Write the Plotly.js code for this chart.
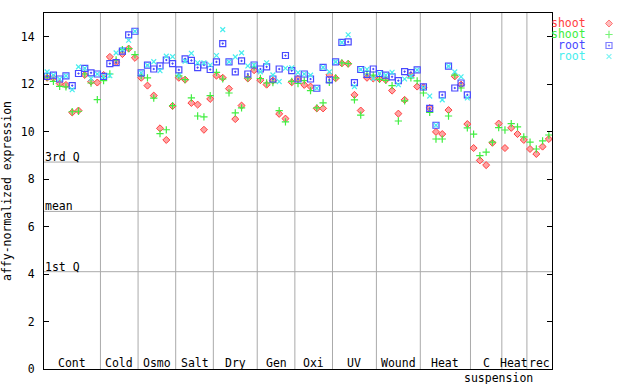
<!DOCTYPE html>
<html>
<head>
<meta charset="utf-8">
<script src="https://cdn.plot.ly/plotly-3.0.1.min.js"></script>
<style>html,body{margin:0;padding:0;background:#fff;}#chart{width:640px;height:384px;}</style>
</head>
<body>
<div id="chart"></div>
<script>
// ---- data ----
const groups = ["Cont","Cold","Osmo","Salt","Dry","Gen","Oxi","UV","Wound","Heat","C<br>suspension","Heat","rec"];
const groupSizes = [9,6,6,6,7,6,6,7,7,8,5,4,4];

const seriesNames = ["shoot","shoot","root","root"];

const shootRed = [
  12.27,12.27,12.03,11.97,10.81,10.89,12.39,12.11,12.07,
  12.39,13.15,12.93,13.27,13.50,13.11,
  12.27,11.94,11.52,10.14,9.65,11.08,
  12.27,12.19,11.21,11.14,10.08,11.38,
  12.36,12.27,11.81,10.53,11.10,12.24,12.59,
  12.17,11.98,12.15,10.75,10.55,12.08,
  12.22,11.97,11.90,10.98,10.98,12.39,
  12.25,12.88,12.86,11.55,10.89,12.27,12.24,
  12.22,12.18,11.73,10.76,11.34,12.38,11.90,
  11.87,11.00,9.99,9.90,10.91,12.33,11.98,10.32,
  9.31,8.79,8.59,9.53,10.34,
  9.31,10.16,9.90,9.65,
  9.27,9.06,9.37,9.69
];
const shootGreen = [
  12.30,12.12,11.91,11.89,10.84,10.86,12.43,12.05,11.35,
  12.15,12.43,13.02,13.46,13.50,13.25,
  12.36,12.27,11.41,9.92,10.08,11.10,
  12.35,12.19,11.42,10.66,10.62,11.52,
  12.50,12.22,11.63,10.79,11.00,12.27,12.73,
  12.24,12.05,12.07,10.89,10.41,12.12,
  12.03,12.15,11.73,11.00,11.21,12.08,
  12.27,12.90,12.87,11.34,10.70,12.43,12.38,
  12.20,12.16,11.94,10.45,11.30,12.27,12.14,
  11.63,10.81,9.69,9.69,10.66,12.38,11.84,10.16,
  9.90,8.99,9.14,9.56,10.17,
  10.07,10.34,10.20,9.78,
  9.56,9.27,9.61,9.86
];
const rootBlue = [
  12.33,12.38,12.22,12.35,11.94,12.45,12.67,12.48,12.43,
  12.33,12.87,12.91,13.39,14.08,14.23,
  12.48,12.80,12.64,12.77,13.02,12.87,
  12.60,13.07,13.00,12.70,12.81,12.62,
  12.94,13.71,12.94,12.52,12.98,12.43,12.81,
  12.64,12.73,12.22,12.64,13.21,12.57,
  12.22,12.43,12.22,11.83,12.71,12.18,
  12.94,13.76,13.78,12.07,12.62,12.41,12.64,
  12.45,12.38,12.31,12.15,12.53,12.49,12.60,
  11.89,10.98,10.27,11.55,12.76,11.84,12.05,11.55,
  null,null,null,null,null,
  null,null,null,null,
  null,null,null,null
];
const rootCyan = [
  12.52,12.38,12.22,12.35,11.77,12.73,12.67,12.24,12.43,
  12.33,12.36,13.32,13.45,13.85,14.23,
  12.48,12.80,12.95,12.57,13.18,13.16,
  12.36,12.97,13.30,12.90,12.90,12.81,
  13.21,14.30,12.94,13.15,13.32,12.77,12.81,
  12.52,12.90,12.39,12.11,12.67,12.69,
  12.49,12.43,12.38,11.83,12.71,12.52,
  12.94,13.76,14.08,11.90,12.62,12.63,12.24,
  12.45,12.38,12.50,11.98,12.22,12.33,12.60,
  11.85,11.50,10.27,11.34,12.76,12.52,12.31,11.42,
  null,null,null,null,null,
  null,null,null,null,
  null,null,null,null
];

const statValues = [8.72, 6.64, 4.10];
const statLabels = ["3rd Q", "mean", "1st Q"];

// ---- build ----
const FONT = "DejaVu Sans Mono, Liberation Mono, monospace";
const nTotal = groupSizes.reduce((a,b)=>a+b,0);
const xs = [];
for (let i = 0; i < nTotal; i++) xs.push(i + 0.5);

const styles = [
  {symbol:"diamond", size:5.4, color:"#ffa3a3", line:{color:"#ff4040", width:1}, text:"#ff4040"},
  {symbol:"cross-thin-open", size:5.2, color:"#40ee40", line:{color:"#40ee40", width:1.2}, text:"#40ee40"},
  {symbol:"square-open-dot", size:6, color:"#4848ff", line:{color:"#4848ff", width:1.2}, text:"#4848ff"},
  {symbol:"x-thin-open", size:4.8, color:"#48eeee", line:{color:"#48eeee", width:1.2}, text:"#48eeee"}
];
const seriesData = [shootRed, shootGreen, rootBlue, rootCyan];

const traces = seriesData.map((ys, k) => ({
  type:"scatter", mode:"markers", x: xs, y: ys, name: seriesNames[k],
  xaxis:"x", yaxis:"y", showlegend:false, hoverinfo:"skip",
  marker:{symbol: styles[k].symbol, size: styles[k].size, color: styles[k].color, line: styles[k].line}
}));

// legend keys drawn on a small auxiliary axis
traces.push({
  type:"scatter", mode:"markers", xaxis:"x2", yaxis:"y2", showlegend:false, hoverinfo:"skip",
  x: seriesNames.map(() => 0.5), y: seriesNames.map((_, i) => i),
  marker:{
    symbol: styles.map(s => s.symbol), size: styles.map(s => s.size),
    color: styles.map(s => s.color),
    line:{color: styles.map(s => s.line.color), width: styles.map(s => s.line.width)}
  }
});

const W = 640, H = 384, mL = 44, mR = 10, mT = 13, mB = 15;
const plotW = W - mL - mR, plotH = H - mT - mB;
const mainRightPx = 552;
const domRight = (mainRightPx - mL) / plotW;

const shapes = [];
const annotations = [];
let cum = 0;
groupSizes.forEach((n, g) => {
  const start = cum; cum += n;
  if (g > 0) shapes.push({type:"line", xref:"x", yref:"paper", x0:start, x1:start, y0:0, y1:1,
    line:{color:"#aaaaaa", width:1}, layer:"below"});
  const parts = groups[g].split("<br>");
  annotations.push({xref:"x", yref:"paper", x:(start+cum)/2, y:0, xanchor:"center", yanchor:"bottom",
    yshift:-2, borderpad:0, text: parts[0], showarrow:false, font:{family:FONT, size:11.5, color:"#000"}});
  if (parts.length > 1) annotations.push({xref:"x", yref:"paper", x:(start+cum)/2, y:0, xanchor:"center",
    yanchor:"top", yshift:-1, xshift:12, borderpad:0, text: parts.slice(1).join("<br>"), showarrow:false,
    font:{family:FONT, size:11.5, color:"#000"}});
});
statValues.forEach((v, i) => {
  shapes.push({type:"line", xref:"x", yref:"y", x0:0, x1:nTotal, y0:v, y1:v,
    line:{color:"#aaaaaa", width:1}, layer:"below"});
  annotations.push({xref:"x", yref:"y", x:0, y:v, xanchor:"left", yanchor:"bottom", yshift:-3, borderpad:0,
    text: statLabels[i], showarrow:false, font:{family:FONT, size:11.5, color:"#000"}});
});
seriesNames.forEach((nm, i) => {
  annotations.push({xref:"paper", yref:"y2", x:(587 - mL)/plotW, y:i, xanchor:"right", yanchor:"middle",
    borderpad:0, text:nm, showarrow:false, font:{family:FONT, size:11.5, color: styles[i].text}});
});

const layout = {
  width:W, height:H, margin:{l:mL, r:mR, t:mT, b:mB, pad:0},
  paper_bgcolor:"#fff", plot_bgcolor:"#fff", showlegend:false,
  font:{family:FONT, size:11.5, color:"#000"},
  xaxis:{domain:[0, domRight], range:[0, nTotal], showgrid:false, zeroline:false,
    showticklabels:false, ticks:"", showline:true, linecolor:"#000", linewidth:1, mirror:true, fixedrange:true},
  yaxis:{range:[0, 15], dtick:2, tick0:0, showgrid:false, zeroline:false, ticks:"inside", ticklen:5,
    tickcolor:"#000", showline:true, linecolor:"#000", linewidth:1, mirror:"ticks",
    ticklabelstandoff:6,
    tickfont:{family:FONT, size:11.5, color:"#000"},
    title:{text:"affy-normalized expression", standoff:8, font:{family:FONT, size:11.5, color:"#000"}},
    fixedrange:true},
  xaxis2:{domain:[(600-mL)/plotW, (618-mL)/plotW], anchor:"y2", range:[0,1], visible:false, fixedrange:true},
  yaxis2:{domain:[(369-62)/plotH, (369-18)/plotH], anchor:"x2", range:[3.5,-0.5], visible:false, fixedrange:true},
  shapes: shapes, annotations: annotations
};

Plotly.newPlot("chart", traces, layout, {displayModeBar:false, staticPlot:true});
</script>
</body>
</html>
